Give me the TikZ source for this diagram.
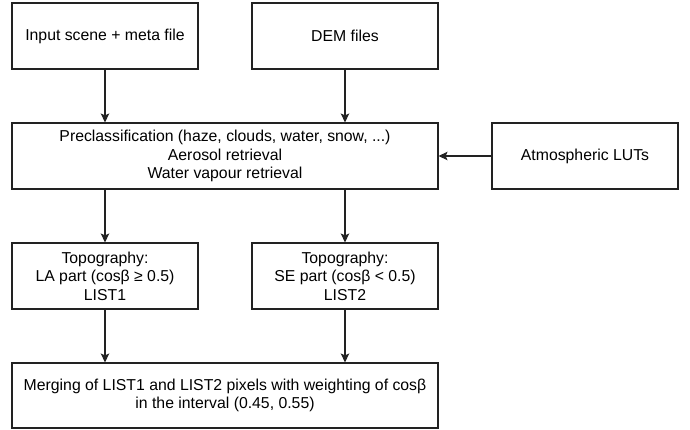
\documentclass[tikz,border=0pt]{standalone}
\usepackage{fontspec}
\setmainfont{Liberation Sans}
\usetikzlibrary{arrows.meta}
\definecolor{ink}{HTML}{222222}

\begin{document}
\begin{tikzpicture}[x=1pt, y=1pt,
  b/.style={draw=ink, line width=1.1pt, minimum width=186pt, minimum height=66pt,
            inner sep=0, align=center, font=\fontsize{15.8}{18.5}\selectfont},
  w/.style={b, minimum width=426pt},
  arr/.style={-{Stealth[length=9pt, width=8.5pt, inset=2pt]}, draw=ink,
              line width=1.1pt}]
\useasboundingbox (0,0) rectangle (690,-429);
\node[b] (in) at (105, -36) {Input scene + meta file};
\node[b] (dem) at (345, -36) {DEM files};
\node[w] (pre) at (225, -156)
  {Preclassification (haze, clouds, water, snow, ...)\\Aerosol retrieval\\Water vapour retrieval};
\node[b] (lut) at (585, -156) {Atmospheric LUTs};
\node[b] (la) at (105, -276) {Topography:\\LA part (cosβ ≥ 0.5)\\LIST1};
\node[b] (se) at (345, -276) {Topography:\\SE part (cosβ < 0.5)\\LIST2};
\node[w, minimum height=65pt] (mrg) at (225, -395.5)
  {Merging of LIST1 and LIST2 pixels with weighting of cosβ\\in the interval (0.45, 0.55)};
\draw[arr] (in.south) -- (in.south |- pre.north);
\draw[arr] (dem.south) -- (dem.south |- pre.north);
\draw[arr] (lut.west) -- (pre.east);
\draw[arr] (pre.south -| la.north) -- (la.north);
\draw[arr] (pre.south -| se.north) -- (se.north);
\draw[arr] (la.south) -- (la.south |- mrg.north);
\draw[arr] (se.south) -- (se.south |- mrg.north);
\end{tikzpicture}
\end{document}
